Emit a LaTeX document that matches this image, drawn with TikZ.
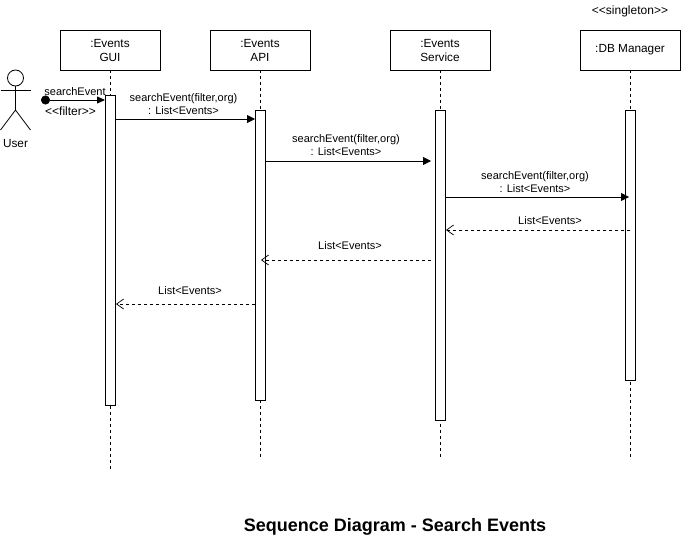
\documentclass[tikz,border=0pt]{standalone}
\usepackage{fontspec}
\setmainfont{Liberation Sans}
\usetikzlibrary{positioning, arrows.meta}
\tikzset{
  objbox/.style={
    draw, rectangle, line width=0.8pt, outer sep=0pt,
    minimum width=100pt, minimum height=40pt,
    font=\fontsize{11.8}{14}\selectfont, align=center
  },
  actbar/.style={
    draw, rectangle, line width=0.8pt, fill=white, outer sep=0pt,
    minimum width=10pt, inner sep=0pt
  },
  lbl/.style={font=\fontsize{11}{13}\selectfont, align=center, inner sep=0pt},
  stereo/.style={font=\fontsize{12}{14}\selectfont, inner sep=0pt},
  life/.style={line width=0.7pt, dash pattern=on 3pt off 3pt},
  callarr/.style={-{Triangle[length=8pt,width=8pt]}, line width=0.8pt},
  retarr/.style={-{Straight Barb[length=7pt,width=10pt]}, line width=0.7pt, dash pattern=on 3pt off 3pt},
  limb/.style={line width=0.8pt},
}
\begin{document}
\begin{tikzpicture}[x=1pt, y=-1pt]
    \useasboundingbox (0,0) rectangle (681,541);
    % objects
    \node[objbox]                     (gui) at (110,50) {:Events\\GUI};
    \node[objbox, right=50pt of gui]  (api) {:Events\\API};
    \node[objbox, right=80pt of api]  (svc) {:Events\\Service};
    \node[objbox, right=90pt of svc]  (dbm) {:DB Manager};
    \node[stereo, above=13pt of dbm] (sing) {<{}<singleton>{}>};
    % lifelines
    \coordinate (guiend) at (110,470);
    \coordinate (apiend) at (260,458);
    \coordinate (svcend) at (440,458);
    \coordinate (dbmend) at (630,458);
    \draw[life] (gui) -- (guiend);
    \draw[life] (api) -- (apiend);
    \draw[life] (svc) -- (svcend);
    \draw[life] (dbm) -- (dbmend);
    % activation bars
    \node[actbar, below=25pt of gui, minimum height=310pt] (guibar) {};
    \node[actbar, below=40pt of api, minimum height=290pt] (apibar) {};
    \node[actbar, below=40pt of svc, minimum height=310pt] (svcbar) {};
    \node[actbar, below=40pt of dbm, minimum height=270pt] (dbmbar) {};
    % actor
    \node[draw, circle, line width=0.8pt, minimum size=16pt, inner sep=0pt, outer sep=0pt] (head) at (15.5,78) {};
    \coordinate (hip)   at (15.5,110);
    \coordinate (armL)  at (0.5,90);
    \coordinate (armR)  at (30.5,90);
    \coordinate (footL) at (0.5,130);
    \coordinate (footR) at (30.5,130);
    \draw[limb] (head) -- (hip);
    \draw[limb] (armL) -- (armR);
    \draw[limb] (footL) -- (hip) -- (footR);
    \node[lbl, font=\fontsize{11.8}{14}\selectfont] (user) at (15.5,143) {User};
    % messages
    \coordinate (start) at (41,100);
    \draw[{Circle[length=9pt]}-{Triangle[length=8pt,width=7pt]}, line width=0.8pt]
      (start) -- ([yshift=-5pt]guibar.north west);
    \draw[callarr] ([yshift=-24pt]guibar.north east) -- ([yshift=-9pt]apibar.north west);
    \draw[callarr] ([yshift=-51pt]apibar.north east) -- ([xshift=-4pt,yshift=-51pt]svcbar.north west);
    \draw[callarr] ([yshift=-87pt]svcbar.north east) -- ([xshift=-1pt,yshift=-87pt]dbmbar.north);
    \draw[retarr] ([yshift=-120pt]dbmbar.north) -- ([xshift=1pt,yshift=-120pt]svcbar.north east);
    \draw[retarr] ([xshift=-4pt,yshift=-150pt]svcbar.north west) -- ([xshift=-4pt,yshift=-150pt]apibar.north east);
    \draw[retarr] ([yshift=-194pt]apibar.north west) -- ([xshift=1pt,yshift=-209pt]guibar.north east);
    % labels
    \node[lbl] (ev)   at (75,91.5)  {searchEvent};
    \node[stereo] (filt) at (70.5,111.5) {<{}<filter>{}>};
    \node[lbl] (m1) at (183.5,104.5) {searchEvent(filter,org)\\: List<Events>};
    \node[lbl] (m2) at (346,145.5)   {searchEvent(filter,org)\\: List<Events>};
    \node[lbl] (m3) at (535,182.5)   {searchEvent(filter,org)\\: List<Events>};
    \node[lbl] (r1) at (550,221)     {List<Events>};
    \node[lbl] (r2) at (350,246)     {List<Events>};
    \node[lbl] (r3) at (190,291)     {List<Events>};
    \node[font=\fontsize{18}{22}\selectfont\bfseries, inner sep=0pt] (title) at (395,527) {Sequence Diagram - Search Events};
\end{tikzpicture}
\end{document}
